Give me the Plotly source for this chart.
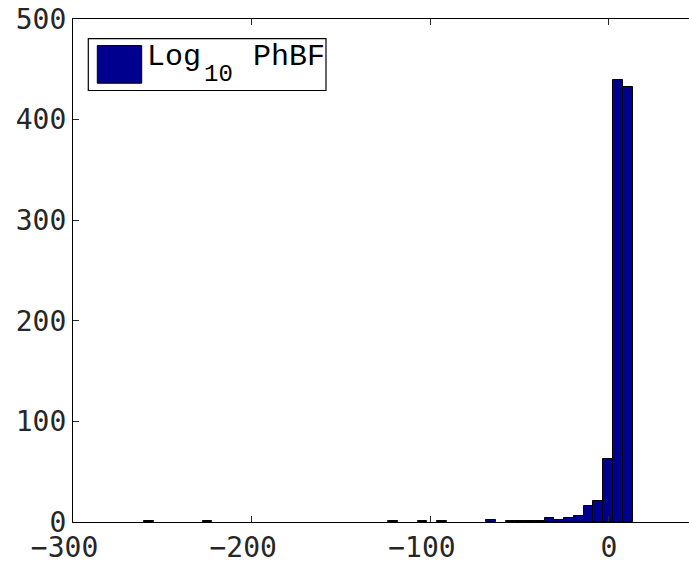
import numpy as np
import plotly.graph_objects as go

# Histogram of Log10 PhBF: 50 equal-width bins
bin_min = -260.2
bin_max = 13.2
n_bins = 50
counts = [1, 0, 0, 0, 0, 0, 1, 0, 0, 0,
          0, 0, 0, 0, 0, 0, 0, 0, 0, 0,
          0, 0, 0, 0, 0, 1, 0, 0, 1, 0,
          1, 0, 0, 0, 0, 2, 0, 1, 1, 1,
          1, 4, 2, 4, 6, 16, 21, 63, 439, 432]
legend_parts = ["Log", "10", "PhBF"]
x_ticks = [-300, -200, -100, 0]
x_tick_labels = ["\u2212300\u00a0", "\u2212200\u00a0", "\u2212100\u00a0", "0"]
y_ticks = [0, 100, 200, 300, 400, 500]

edges = np.linspace(bin_min, bin_max, n_bins + 1)
centers = (edges[:-1] + edges[1:]) / 2
width = edges[1] - edges[0]
heights = [c if c > 0 else None for c in counts]

W, H = 689, 564
L, R, T, B = 73, 0, 19, 33.5
pw, ph = W - L - R, H - T - B

def px(x):
    return (x - L) / pw

def py(y):
    return (H - B - y) / ph

fig = go.Figure()
fig.add_trace(go.Bar(
    x=centers, y=heights, width=width,
    marker=dict(color="#00008F", line=dict(color="#000000", width=1)),
    showlegend=False,
))

tickfont = dict(family="DejaVu Sans Mono", size=28, color="#262626")
fig.update_layout(
    width=W, height=H,
    margin=dict(l=L, r=R, t=T, b=B, pad=0),
    paper_bgcolor="white", plot_bgcolor="white",
    bargap=0,
    xaxis=dict(range=[-300, 44.8], tickvals=x_ticks, ticktext=x_tick_labels,
               ticks="inside", ticklen=6, tickcolor="#262626", tickwidth=1,
               showline=True, linecolor="#000000", linewidth=1.2, mirror="ticks",
               showgrid=False, zeroline=False, tickfont=tickfont),
    yaxis=dict(range=[0, 500], tickvals=y_ticks,
               ticks="inside", ticklen=6, tickcolor="#262626", tickwidth=1,
               showline=True, linecolor="#000000", linewidth=1.2, mirror=False,
               showgrid=False, zeroline=False, tickfont=tickfont),
    font=dict(family="DejaVu Sans Mono"),
)

# Legend box drawn as shapes
fig.add_shape(type="rect", xref="paper", yref="paper",
              x0=px(88.3), x1=px(326), y0=py(91.7), y1=py(39),
              line=dict(color="#000000", width=1.2), fillcolor="white", layer="above")
fig.add_shape(type="rect", xref="paper", yref="paper",
              x0=px(97.3), x1=px(141.7), y0=py(84.3), y1=py(46),
              line=dict(color="#000000", width=1), fillcolor="#00008F", layer="above")
lfont = dict(family="Liberation Mono", size=30, color="#000000")
sfont = dict(family="Liberation Mono", size=24, color="#000000")
fig.add_annotation(xref="paper", yref="paper", x=px(145), y=py(58),
                   xanchor="left", yanchor="middle", showarrow=False,
                   text=legend_parts[0], font=lfont)
fig.add_annotation(xref="paper", yref="paper", x=px(202), y=py(75),
                   xanchor="left", yanchor="middle", showarrow=False,
                   text=legend_parts[1], font=sfont)
fig.add_annotation(xref="paper", yref="paper", x=px(251), y=py(58),
                   xanchor="left", yanchor="middle", showarrow=False,
                   text=legend_parts[2], font=lfont)

fig.write_html("out.html")
